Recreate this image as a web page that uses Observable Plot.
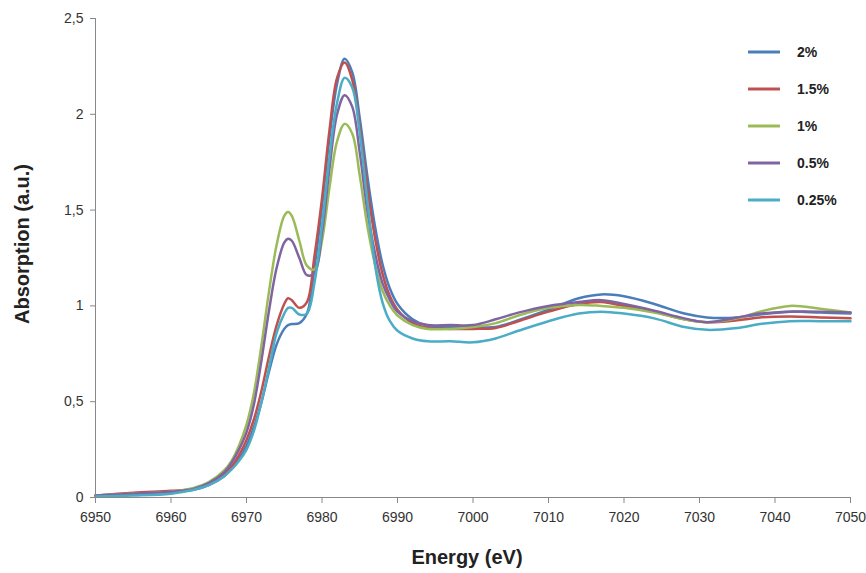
<!DOCTYPE html>
<html>
<head>
<meta charset="utf-8">
<script src="https://cdn.jsdelivr.net/npm/d3@7"></script>
<script src="https://cdn.jsdelivr.net/npm/@observablehq/plot@0.6"></script>
<style>
  html, body { margin: 0; padding: 0; background: #fff; }
  #wrap { position: relative; width: 866px; height: 573px; font-family: "Liberation Sans", Arial, sans-serif; }
  #legend { position: absolute; left: 748px; top: 34px; }
  .item { display: flex; align-items: center; height: 36.8px; font-weight: bold; font-size: 14px; color: #222; }
  .item svg { margin-right: 17px; }
</style>
</head>
<body>
<div id="wrap"><div id="legend"></div></div>
<script>
const energy = [6950, 6955, 6960, 6963, 6965, 6967, 6968, 6969, 6970, 6971, 6972, 6973, 6974, 6975, 6975.5, 6976, 6977, 6978, 6979, 6980, 6981, 6982, 6983, 6984, 6985, 6986, 6987, 6988, 6989, 6990, 6992, 6994, 6997, 7000, 7003, 7006, 7010, 7014, 7017, 7020, 7024, 7028, 7031, 7035, 7038, 7042, 7046, 7050];

const s2pct = [0.01, 0.02, 0.03, 0.04, 0.065, 0.11, 0.15, 0.20, 0.27, 0.37, 0.50, 0.66, 0.80, 0.88, 0.90, 0.905, 0.91, 0.96, 1.20, 1.52, 1.88, 2.16, 2.29, 2.22, 1.98, 1.68, 1.42, 1.22, 1.09, 1.01, 0.93, 0.895, 0.89, 0.89, 0.89, 0.925, 0.98, 1.04, 1.06, 1.05, 1.01, 0.96, 0.94, 0.94, 0.955, 0.97, 0.965, 0.96];
const s15pct = [0.01, 0.025, 0.035, 0.045, 0.07, 0.12, 0.16, 0.22, 0.30, 0.41, 0.56, 0.74, 0.90, 1.01, 1.04, 1.03, 0.99, 1.02, 1.26, 1.56, 1.92, 2.19, 2.27, 2.18, 1.93, 1.62, 1.36, 1.17, 1.05, 0.98, 0.91, 0.885, 0.88, 0.88, 0.885, 0.92, 0.97, 1.01, 1.02, 1.0, 0.97, 0.93, 0.915, 0.925, 0.94, 0.945, 0.94, 0.935];
const s1pct = [0.01, 0.02, 0.03, 0.05, 0.08, 0.14, 0.19, 0.27, 0.38, 0.55, 0.80, 1.08, 1.32, 1.47, 1.49, 1.47, 1.34, 1.21, 1.19, 1.34, 1.62, 1.86, 1.95, 1.90, 1.68, 1.42, 1.22, 1.08, 1.00, 0.95, 0.90, 0.88, 0.88, 0.89, 0.91, 0.95, 0.99, 1.005, 1.0, 0.99, 0.965, 0.93, 0.915, 0.935, 0.97, 1.0, 0.985, 0.965];
const s05pct = [0.01, 0.02, 0.03, 0.045, 0.075, 0.13, 0.18, 0.25, 0.34, 0.49, 0.72, 0.98, 1.20, 1.33, 1.35, 1.34, 1.25, 1.16, 1.17, 1.38, 1.72, 2.00, 2.10, 2.04, 1.80, 1.50, 1.28, 1.12, 1.03, 0.97, 0.92, 0.90, 0.90, 0.90, 0.93, 0.965, 1.0, 1.02, 1.03, 1.01, 0.975, 0.935, 0.915, 0.94, 0.96, 0.97, 0.97, 0.965];
const s025pct = [0.005, 0.01, 0.02, 0.04, 0.065, 0.11, 0.145, 0.19, 0.25, 0.35, 0.50, 0.68, 0.86, 0.96, 0.99, 0.99, 0.955, 0.96, 1.12, 1.42, 1.78, 2.06, 2.19, 2.14, 1.90, 1.55, 1.22, 1.02, 0.92, 0.87, 0.83, 0.815, 0.815, 0.81, 0.83, 0.87, 0.92, 0.96, 0.97, 0.96, 0.935, 0.89, 0.875, 0.885, 0.905, 0.92, 0.92, 0.92];

const seriesNames = ["2%", "1.5%", "1%", "0.5%", "0.25%"];
const seriesValues = [s2pct, s15pct, s1pct, s05pct, s025pct];
const seriesColors = ["#4A7EBB", "#C0504D", "#9BBB59", "#8064A2", "#4BACC6"];

const xTicks = [6950, 6960, 6970, 6980, 6990, 7000, 7010, 7020, 7030, 7040, 7050];
const yTicks = [0, 0.5, 1, 1.5, 2, 2.5];

const data = seriesNames.flatMap((name, i) =>
  energy.map((e, j) => ({series: name, energy: e, value: seriesValues[i][j]}))
);

const fmtComma = d => String(d).replace(".", ",");

const chart = Plot.plot({
  width: 866,
  height: 573,
  marginLeft: 95,
  marginRight: 16,
  marginTop: 18,
  marginBottom: 76,
  style: {fontFamily: "'Liberation Sans', Arial, sans-serif", fontSize: "14px", color: "#333", background: "#fff"},
  x: {domain: [6950, 7050]},
  y: {domain: [0, 2.5]},
  color: {domain: seriesNames, range: seriesColors},
  marks: [
    Plot.line(data, {x: "energy", y: "value", z: "series", stroke: "series", strokeWidth: 2.5, curve: "catmull-rom"}),
    Plot.ruleY([0], {stroke: "#888"}),
    Plot.ruleX([6950], {stroke: "#888"}),
    Plot.axisX({ticks: xTicks, tickSize: 6, tickPadding: 9, stroke: "#888", tickFormat: d => String(d), label: null, fill: "#333", fontSize: 14}),
    Plot.axisY({ticks: yTicks, tickSize: 5, tickPadding: 7, stroke: "#888", tickFormat: fmtComma, label: null, fill: "#333", fontSize: 14}),
    Plot.text(["Absorption (a.u.)"], {frameAnchor: "left", textAnchor: "middle", dx: -73, dy: -14, rotate: -90, fontWeight: "bold", fontSize: 20, fill: "#222"}),
    Plot.text(["Energy (eV)"], {frameAnchor: "bottom", textAnchor: "middle", dx: -6, dy: 66, fontWeight: "bold", fontSize: 20, fill: "#222"})
  ]
});

const wrap = document.getElementById("wrap");
wrap.insertBefore(chart, wrap.firstChild);

const legend = document.getElementById("legend");
seriesNames.forEach((name, i) => {
  const item = document.createElement("div");
  item.className = "item";
  item.innerHTML = `<svg width="32" height="4"><line x1="0" y1="2" x2="32" y2="2" stroke="${seriesColors[i]}" stroke-width="3"/></svg><span>${name}</span>`;
  legend.appendChild(item);
});
</script>
</body>
</html>
